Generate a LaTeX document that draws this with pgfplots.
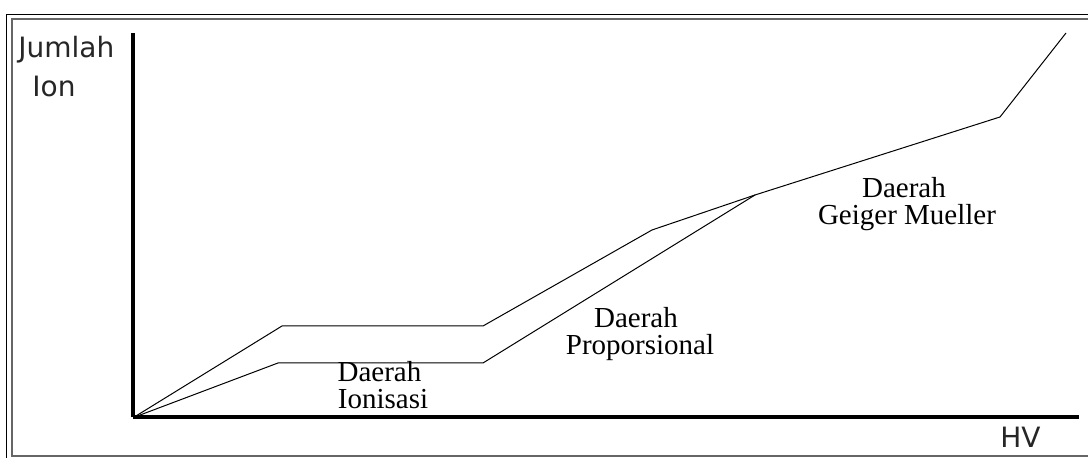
\documentclass[border=0pt]{standalone}
\usepackage{fontspec}
\setmainfont{Liberation Serif}
\newfontfamily\uisans{DejaVu Sans}
\usepackage{pgfplots}
\pgfplotsset{compat=1.18}
\begin{document}
\begin{tikzpicture}
\useasboundingbox (-66.75pt,-20.25pt) rectangle (477.25pt,208.75pt);
\fill[white] (-66.75pt,-20.25pt) rectangle (477.25pt,208.75pt);
\begin{axis}[
  at={(0,0)}, anchor=south west,
  scale only axis,
  width=472.75pt, height=192.25pt,
  xmin=0, xmax=945.5, ymin=0, ymax=384.5,
  axis lines=left,
  axis line style={-, line width=2pt, black},
  ticks=none,
  clip=false,
]
% frame
\draw[black, line width=0.5pt] (axis cs:-126.5,-60) -- (axis cs:-126.5,403) -- (axis cs:980,403);
\draw[gray!80!black, line width=1pt] (axis cs:980,-39) -- (axis cs:-121.5,-39) -- (axis cs:-121.5,398) -- (axis cs:980,398);
% curves
\addplot[black, line width=0.5pt] coordinates {
  (0,0) (148.5,91.5) (349.5,91.5) (518.5,187.5) (621.5,222.5) (866.5,300.5) (932.5,384.5)};
\addplot[black, line width=0.5pt] coordinates {
  (0,0) (144.5,54.5) (349.5,54.5) (621.5,222.5)};
% labels
\node[inner sep=0pt, anchor=base west, font=\uisans\fontsize{14}{16}\selectfont, text=black!85] at (axis cs:-115.5,359.5) {Jumlah};
\node[inner sep=0pt, anchor=base west, font=\uisans\fontsize{14}{16}\selectfont, text=black!85] at (axis cs:-101.5,320.5) {Ion};
\node[inner sep=0pt, anchor=base west, font=\uisans\fontsize{14}{16}\selectfont, text=black!85] at (axis cs:866.5,-30.5) {HV};
\node[inner sep=0pt, anchor=base, font=\fontsize{14.5}{16}\selectfont] at (axis cs:246,35.5) {Daerah};
\node[inner sep=0pt, anchor=base, font=\fontsize{14.5}{16}\selectfont] at (axis cs:249.5,9) {Ionisasi};
\node[inner sep=0pt, anchor=base, font=\fontsize{14.5}{16}\selectfont] at (axis cs:502.5,89.5) {Daerah};
\node[inner sep=0pt, anchor=base, font=\fontsize{14.5}{16}\selectfont] at (axis cs:506.5,62.5) {Proporsional};
\node[inner sep=0pt, anchor=base, font=\fontsize{14.5}{16}\selectfont] at (axis cs:770.5,219.5) {Daerah};
\node[inner sep=0pt, anchor=base, font=\fontsize{14.5}{16}\selectfont] at (axis cs:773.5,192.5) {Geiger Mueller};
\end{axis}
\end{tikzpicture}
\end{document}
